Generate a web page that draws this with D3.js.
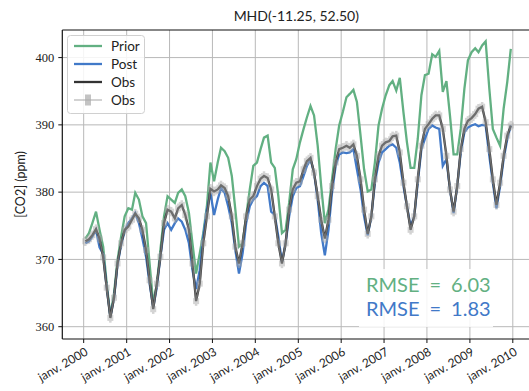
<!DOCTYPE html>
<html>
<head>
<meta charset="utf-8">
<title>MHD CO2</title>
<script src="https://cdn.jsdelivr.net/npm/d3@7"></script>
<style>
  body { margin: 0; background: #fff; }
  svg text { font-family: Lato, "DejaVu Sans", sans-serif; fill: #222; }
  .ytick text { font-family: "Liberation Serif", "DejaVu Serif", serif; }
</style>
</head>
<body>
<svg id="chart" width="529" height="391"></svg>
<script>
// monthly values, jan 2000 .. dec 2009 (mid-month)
var years = [2000, 2001, 2002, 2003, 2004, 2005, 2006, 2007, 2008, 2009];

var prior = [
  373.1, 373.9, 375.4, 377.1, 374.4, 371.9, 366.4, 361.6, 364.9, 369.9, 373.4, 376.4,
  377.6, 377.4, 379.9, 378.9, 376.4, 375.4, 369.4, 363.4, 366.4, 371.4, 376.4, 379.4,
  378.9, 378.4, 379.9, 380.4, 379.4, 376.9, 372.4, 367.9, 370.9, 373.9, 377.9, 384.4,
  381.6, 384.4, 386.6, 386.1, 385.1, 382.4, 377.4, 371.9, 372.4, 376.4, 380.4, 383.9,
  384.4, 386.4, 388.1, 388.4, 384.4, 383.6, 379.4, 373.9, 374.4, 378.4, 383.4, 384.9,
  387.4, 389.4, 391.1, 392.8, 391.4, 386.9, 380.9, 375.4, 377.4, 381.9, 386.4, 389.9,
  391.9, 394.1, 394.6, 395.2, 393.4, 388.4, 383.4, 380.1, 380.4, 384.4, 389.9, 392.4,
  394.4, 395.9, 396.5, 395.1, 397.0, 391.9, 387.4, 383.6, 383.6, 387.9, 394.4, 397.4,
  397.6, 400.5, 400.1, 401.0, 394.9, 396.5, 391.4, 385.6, 385.6, 389.4, 395.4, 399.6,
  400.8, 401.4, 400.8, 401.8, 402.4, 395.4, 389.4, 388.1, 386.9, 392.4, 396.4, 401.3
];

var post = [
  372.4, 372.7, 373.4, 374.4, 371.8, 370.8, 365.8, 361.5, 364.2, 369.2, 372.2, 374.2,
  375.4, 376.1, 376.9, 375.4, 373.1, 370.4, 366.4, 362.9, 365.9, 370.4, 374.4, 375.4,
  374.4, 375.4, 376.1, 375.6, 374.4, 372.4, 368.4, 365.6, 368.4, 373.4, 377.4, 379.9,
  376.6, 378.9, 380.6, 379.9, 377.9, 375.4, 371.4, 367.9, 370.9, 375.4, 377.9, 378.9,
  379.4, 380.9, 381.4, 380.9, 377.1, 376.6, 373.4, 369.6, 372.4, 376.4, 379.4, 380.6,
  380.9, 382.4, 383.9, 384.9, 382.9, 378.9, 373.9, 370.6, 374.4, 379.9, 383.9, 385.6,
  385.9, 385.8, 385.9, 386.4, 383.4, 380.4, 376.4, 373.6, 376.4, 381.4, 384.4, 385.9,
  386.4, 386.9, 387.1, 386.6, 384.4, 380.9, 377.9, 374.9, 376.4, 381.4, 386.4, 387.9,
  389.4, 389.9, 389.6, 389.4, 383.9, 384.9, 380.4, 376.9, 380.9, 385.9, 388.9, 389.6,
  389.9, 390.1, 389.8, 390.0, 389.9, 385.4, 381.4, 377.6, 380.9, 384.9, 387.9, 389.9
];

var obs = [
  372.7, 373.0, 373.6, 374.5, 373.1, 370.3, 365.8, 361.3, 364.3, 369.4, 372.4, 374.4,
  374.9, 375.9, 376.8, 376.1, 374.4, 371.4, 366.9, 362.6, 366.4, 370.4, 375.4, 377.4,
  377.1, 376.1, 377.6, 378.1, 376.6, 374.4, 369.4, 363.8, 366.4, 372.4, 376.4, 380.5,
  380.1, 380.4, 381.0, 380.6, 379.4, 376.4, 371.9, 369.4, 372.4, 376.4, 378.9, 379.4,
  380.9, 382.0, 382.4, 382.1, 380.4, 376.4, 372.4, 369.4, 372.4, 377.4, 380.4, 381.4,
  381.6, 383.4, 384.6, 385.1, 382.9, 379.4, 375.9, 373.1, 375.9, 380.9, 384.4, 386.4,
  386.6, 386.9, 386.6, 387.1, 385.4, 381.9, 377.4, 373.8, 376.4, 381.9, 385.4, 386.9,
  387.4, 387.6, 388.3, 388.4, 385.9, 381.4, 377.9, 374.4, 376.4, 381.9, 386.9, 389.4,
  390.1, 390.9, 391.4, 391.4, 389.4, 385.4, 380.4, 377.1, 380.9, 386.4, 389.4, 390.6,
  391.0, 391.6, 392.4, 392.7, 390.4, 386.4, 381.9, 378.1, 381.4, 385.4, 388.4, 389.9
];

var obsErr = 0.7;
var rmsePrior = "6.03", rmsePost = "1.83";
var tickYears = [2000, 2001, 2002, 2003, 2004, 2005, 2006, 2007, 2008, 2009, 2010];
var yTicks = [360, 370, 380, 390, 400];

var colPrior = "#62b082", colPost = "#4179c8", colObs = "#333333";

var pLeft = 62.3, pTop = 30, pRight = 530.3, pBottom = 339;

// one date per value, the 15th of each month
var dates = [];
years.forEach(function(yr) {
  for (var m = 0; m < 12; m++) dates.push(new Date(yr, m, 15));
});

var x = d3.scaleTime()
  .domain([new Date(1999, 6, 3), new Date(2010, 4, 30)])
  .range([pLeft, pRight]);

var y = d3.scaleLinear()
  .domain([358.17, 404.1])
  .range([pBottom, pTop]);

var svg = d3.select("#chart");

// grid
svg.append("g").selectAll("line").data(tickYears).enter().append("line")
  .attr("x1", function(d) { return x(new Date(d, 0, 1)); })
  .attr("x2", function(d) { return x(new Date(d, 0, 1)); })
  .attr("y1", pTop).attr("y2", pBottom)
  .attr("stroke", "#b8b8b8").attr("stroke-width", 1);
svg.append("g").selectAll("line").data(yTicks).enter().append("line")
  .attr("x1", pLeft).attr("x2", pRight)
  .attr("y1", function(d) { return y(d); })
  .attr("y2", function(d) { return y(d); })
  .attr("stroke", "#b8b8b8").attr("stroke-width", 1);

var line = d3.line()
  .x(function(d, i) { return x(dates[i]); })
  .y(function(d) { return y(d); });

var plot = svg.append("g");

plot.append("path").datum(prior).attr("d", line)
  .attr("fill", "none").attr("stroke", colPrior).attr("stroke-width", 2.3);
plot.append("path").datum(post).attr("d", line)
  .attr("fill", "none").attr("stroke", colPost).attr("stroke-width", 2.3);
plot.append("path").datum(obs).attr("d", line)
  .attr("fill", "none").attr("stroke", colObs).attr("stroke-width", 2.3);

// obs with error bars and square markers
var eb = plot.append("g").attr("opacity", 0.5);
eb.append("path").datum(obs).attr("d", line)
  .attr("fill", "none").attr("stroke", "#aaa").attr("stroke-width", 1.5);
eb.selectAll("line").data(obs).enter().append("line")
  .attr("x1", function(d, i) { return x(dates[i]); })
  .attr("x2", function(d, i) { return x(dates[i]); })
  .attr("y1", function(d) { return y(d - obsErr); })
  .attr("y2", function(d) { return y(d + obsErr); })
  .attr("stroke", "#aaa").attr("stroke-width", 2.5);
eb.selectAll("rect").data(obs).enter().append("rect")
  .attr("x", function(d, i) { return x(dates[i]) - 3; })
  .attr("y", function(d) { return y(d) - 3; })
  .attr("width", 6).attr("height", 6)
  .attr("fill", "#aaa");

// RMSE box
var rm = svg.append("g");
rm.append("rect").attr("x", 359).attr("y", 269).attr("width", 134).attr("height", 58)
  .attr("fill", "#fff").attr("opacity", 0.85);
rm.append("text").attr("x", 366).attr("y", 292)
  .attr("font-size", 20).style("fill", colPrior)
  .text("RMSE\u2002=\u2002" + rmsePrior);
rm.append("text").attr("x", 366).attr("y", 316)
  .attr("font-size", 20).style("fill", colPost)
  .text("RMSE\u2002=\u2002" + rmsePost);

// axes spines
svg.append("line").attr("x1", pLeft).attr("x2", pLeft).attr("y1", pTop).attr("y2", pBottom)
  .attr("stroke", "#111").attr("stroke-width", 1.2);
svg.append("line").attr("x1", pLeft).attr("x2", pRight).attr("y1", pTop).attr("y2", pTop)
  .attr("stroke", "#111").attr("stroke-width", 1.2);
svg.append("line").attr("x1", pLeft).attr("x2", pRight).attr("y1", pBottom).attr("y2", pBottom)
  .attr("stroke", "#111").attr("stroke-width", 1.2);

// y ticks
var yt = svg.append("g").attr("class", "ytick").selectAll("g").data(yTicks).enter().append("g")
  .attr("transform", function(d) { return "translate(0," + y(d) + ")"; });
yt.append("line").attr("x1", pLeft - 4).attr("x2", pLeft).attr("stroke", "#111");
yt.append("text").attr("x", pLeft - 8).attr("dy", "0.33em")
  .attr("text-anchor", "end").attr("font-size", 12.5)
  .text(function(d) { return d; });

// x ticks
var xt = svg.append("g").selectAll("g").data(tickYears).enter().append("g")
  .attr("transform", function(d) { return "translate(" + x(new Date(d, 0, 1)) + "," + pBottom + ")"; });
xt.append("line").attr("y1", 0).attr("y2", 4).attr("stroke", "#111");
xt.append("text")
  .attr("transform", "translate(1,8) rotate(-30)")
  .attr("text-anchor", "end").attr("dy", "0.7em").attr("font-size", 12)
  .text(function(d) { return "janv. " + d; });

// title, y label
svg.append("text").attr("x", (pLeft + pRight) / 2).attr("y", 21)
  .attr("text-anchor", "middle").attr("font-size", 14)
  .text("MHD(-11.25, 52.50)");
svg.append("text").attr("transform", "translate(25," + (pTop + pBottom) / 2 + ") rotate(-90)")
  .attr("text-anchor", "middle").attr("font-size", 12.5)
  .text("[CO2] (ppm)");

// legend
var lg = svg.append("g");
lg.append("rect").attr("x", 67.5).attr("y", 35.5).attr("width", 77).attr("height", 78)
  .attr("rx", 3).attr("fill", "#fff").attr("fill-opacity", 0.85)
  .attr("stroke", "#d0d0d0");
var items = [
  { name: "Prior", color: colPrior },
  { name: "Post", color: colPost },
  { name: "Obs", color: colObs },
  { name: "Obs", color: "#aaa", err: true }
];
var li = lg.selectAll("g").data(items).enter().append("g")
  .attr("transform", function(d, i) { return "translate(0," + (46 + i * 18) + ")"; });
li.append("line").attr("x1", 74).attr("x2", 102)
  .attr("stroke", function(d) { return d.color; })
  .attr("stroke-width", function(d) { return d.err ? 1.5 : 2.3; })
  .attr("opacity", function(d) { return d.err ? 0.7 : 1; });
li.filter(function(d) { return d.err; }).append("rect")
  .attr("x", 85).attr("y", -5.5).attr("width", 6).attr("height", 11)
  .attr("fill", "#aaa").attr("opacity", 0.7);
li.append("text").attr("x", 111).attr("dy", "0.35em").attr("font-size", 13.5)
  .text(function(d) { return d.name; });
</script>
</body>
</html>
